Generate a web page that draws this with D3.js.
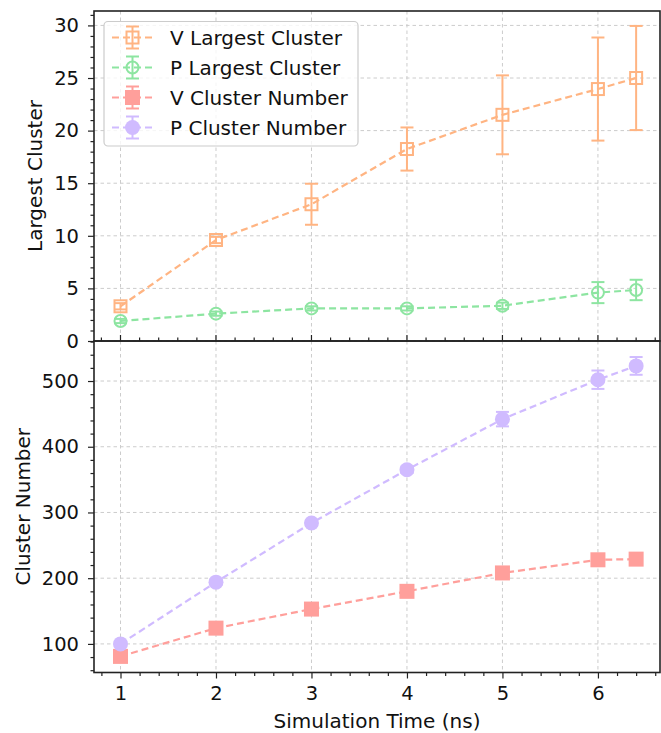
<!DOCTYPE html>
<html>
<head>
<meta charset="utf-8">
<script src="https://cdn.jsdelivr.net/npm/d3@7"></script>
<style>
body { margin:0; background:#fff; }
svg { display:block; font-family:"DejaVu Sans", sans-serif; }
</style>
</head>
<body>
<svg width="661" height="733"></svg>
<script>
// simulation time (ns)
var times = [1, 2, 3, 4, 5, 6, 6.4];

// top panel: largest cluster
var vLargest = [3.3, 9.6, 13.0, 18.25, 21.5, 23.95, 25.0];
var vLargestErr = [0.3, 0.3, 1.95, 2.05, 3.75, 4.9, 4.95];
var pLargest = [1.9, 2.6, 3.1, 3.1, 3.35, 4.6, 4.85];
var pLargestErr = [0.2, 0.2, 0.2, 0.2, 0.3, 1.0, 0.97];

// bottom panel: cluster number
var vNumber = [81, 124, 153, 180, 208, 228, 229];
var vNumberErr = [3, 3, 3, 3, 4, 5, 6];
var pNumber = [100, 194, 284, 365, 442, 502, 523];
var pNumberErr = [3, 4, 4, 5, 11, 14, 13.5];

var xTicks = [1, 2, 3, 4, 5, 6];
var topTicks = [0, 5, 10, 15, 20, 25, 30];
var bottomTicks = [100, 200, 300, 400, 500];
var legendLabels = ["V Largest Cluster", "P Largest Cluster", "V Cluster Number", "P Cluster Number"];

var orange = "#ffb482", green = "#8de5a1", salmon = "#ff9f9b", purple = "#d0bbff";

var svg = d3.select("svg");
var left = 94, right = 660;
var topPanel = {y0:11, y1:341};
var bottomPanel = {y0:341, y1:672.5};

var xScale = d3.scaleLinear().domain([0.7225, 6.65]).range([left, right]);
var yTop = d3.scaleLinear().domain([0, 31.37]).range([topPanel.y1, topPanel.y0]);
var yBottom = d3.scaleLinear().domain([56.5, 560.9]).range([bottomPanel.y1, bottomPanel.y0]);

var drawGrid = function(g, yScale, yTicks, panel)
{
    g.selectAll("line.gx")
        .data(xTicks)
        .enter()
        .append("line")
        .attr("x1", function(d){return xScale(d)})
        .attr("x2", function(d){return xScale(d)})
        .attr("y1", panel.y0)
        .attr("y2", panel.y1)
        .attr("stroke", "#cccccc")
        .attr("stroke-width", 1)
        .attr("stroke-dasharray", "3.5,3")
    g.selectAll("line.gy")
        .data(yTicks)
        .enter()
        .append("line")
        .attr("x1", left)
        .attr("x2", right)
        .attr("y1", function(d){return yScale(d)})
        .attr("y2", function(d){return yScale(d)})
        .attr("stroke", "#cccccc")
        .attr("stroke-width", 1)
        .attr("stroke-dasharray", "3.5,3")
}

var drawYAxis = function(yScale, yTicks, minorStep, panel)
{
    var lo = yScale.domain()[0], hi = yScale.domain()[1];
    var minors = d3.range(Math.ceil(lo / minorStep) * minorStep, hi + 0.001, minorStep)
        .filter(function(v){return yTicks.indexOf(v) < 0});
    var axis = d3.axisLeft(yScale)
        .tickValues(yTicks)
        .tickSize(6)
        .tickPadding(9)
        .tickFormat(d3.format("d"));
    var minorAxis = d3.axisLeft(yScale)
        .tickValues(minors)
        .tickSize(3.5)
        .tickFormat("");
    var ga = svg.append("g").attr("transform", "translate(" + left + ",0)").call(axis);
    var gm = svg.append("g").attr("transform", "translate(" + left + ",0)").call(minorAxis);
    [ga, gm].forEach(function(g)
    {
        g.select(".domain").remove();
        g.selectAll("line").attr("stroke", "#222").attr("stroke-width", 1.2);
    });
    ga.selectAll("text")
        .attr("font-size", 19.5)
        .attr("font-family", "DejaVu Sans")
        .attr("fill", "#111");
}

var drawSeries = function(g, yScale, ys, errs, color, marker, filled)
{
    var pts = times.map(function(t, i){return {x:t, y:ys[i], e:errs[i]}});
    var line = d3.line()
        .x(function(p){return xScale(p.x)})
        .y(function(p){return yScale(p.y)});
    g.append("path")
        .datum(pts)
        .attr("d", line)
        .attr("fill", "none")
        .attr("stroke", color)
        .attr("stroke-width", 2.2)
        .attr("stroke-dasharray", "7,4");
    var bars = g.selectAll(null).data(pts).enter().append("g");
    bars.append("line")
        .attr("x1", function(p){return xScale(p.x)})
        .attr("x2", function(p){return xScale(p.x)})
        .attr("y1", function(p){return yScale(p.y - p.e)})
        .attr("y2", function(p){return yScale(p.y + p.e)})
        .attr("stroke", color).attr("stroke-width", 2);
    [-1, 1].forEach(function(s)
    {
        bars.append("line")
            .attr("x1", function(p){return xScale(p.x) - 6.5})
            .attr("x2", function(p){return xScale(p.x) + 6.5})
            .attr("y1", function(p){return yScale(p.y + s * p.e)})
            .attr("y2", function(p){return yScale(p.y + s * p.e)})
            .attr("stroke", color).attr("stroke-width", 2);
    });
    pts.forEach(function(p)
    {
        drawMarker(g, xScale(p.x), yScale(p.y), color, marker, filled);
    });
}

var drawMarker = function(g, cx, cy, color, marker, filled)
{
    if (marker == "square")
    {
        var s = filled ? 15 : 12;
        g.append("rect")
            .attr("x", cx - s / 2).attr("y", cy - s / 2)
            .attr("width", s).attr("height", s)
            .attr("fill", filled ? color : "none")
            .attr("stroke", filled ? "none" : color)
            .attr("stroke-width", 2);
    }
    else
    {
        g.append("circle")
            .attr("cx", cx).attr("cy", cy)
            .attr("r", filled ? 7.5 : 6)
            .attr("fill", filled ? color : "none")
            .attr("stroke", filled ? "none" : color)
            .attr("stroke-width", 2);
    }
}

// grids
drawGrid(svg.append("g"), yTop, topTicks, topPanel);
drawGrid(svg.append("g"), yBottom, bottomTicks, bottomPanel);

// data
var topG = svg.append("g");
drawSeries(topG, yTop, vLargest, vLargestErr, orange, "square", false);
drawSeries(topG, yTop, pLargest, pLargestErr, green, "circle", false);
var botG = svg.append("g");
drawSeries(botG, yBottom, vNumber, vNumberErr, salmon, "square", true);
drawSeries(botG, yBottom, pNumber, pNumberErr, purple, "circle", true);

// y axes
drawYAxis(yTop, topTicks, 1, topPanel);
drawYAxis(yBottom, bottomTicks, 20, bottomPanel);

// x ticks: up into the top panel, down below the bottom panel
var xMinors = d3.range(0.8, 6.65, 0.2).map(function(v){return +v.toFixed(1)})
    .filter(function(v){return xTicks.indexOf(v) < 0});
var xTop = svg.append("g").attr("transform", "translate(0," + topPanel.y1 + ")");
xTop.selectAll("line.maj").data(xTicks).enter().append("line")
    .attr("x1", function(d){return xScale(d)}).attr("x2", function(d){return xScale(d)})
    .attr("y1", 0).attr("y2", -6).attr("stroke", "#222").attr("stroke-width", 1.2);
xTop.selectAll("line.min").data(xMinors).enter().append("line")
    .attr("x1", function(d){return xScale(d)}).attr("x2", function(d){return xScale(d)})
    .attr("y1", 0).attr("y2", -3.5).attr("stroke", "#222").attr("stroke-width", 1.2);

var xAxis = d3.axisBottom(xScale).tickValues(xTicks).tickSize(6).tickPadding(8).tickFormat(d3.format("d"));
var xMinor = d3.axisBottom(xScale).tickValues(xMinors).tickSize(3.5).tickFormat("");
var gx = svg.append("g").attr("transform", "translate(0," + bottomPanel.y1 + ")").call(xAxis);
var gxm = svg.append("g").attr("transform", "translate(0," + bottomPanel.y1 + ")").call(xMinor);
[gx, gxm].forEach(function(g)
{
    g.select(".domain").remove();
    g.selectAll("line").attr("stroke", "#222").attr("stroke-width", 1.2);
});
gx.selectAll("text").attr("font-size", 19.5).attr("font-family", "DejaVu Sans").attr("fill", "#111");

// frames
[topPanel, bottomPanel].forEach(function(p)
{
    svg.append("rect")
        .attr("x", left).attr("y", p.y0)
        .attr("width", right - left).attr("height", p.y1 - p.y0)
        .attr("fill", "none")
        .attr("stroke", "#222")
        .attr("stroke-width", 1.6);
});

// axis labels
svg.append("text")
    .attr("transform", "translate(41.5," + (topPanel.y0 + topPanel.y1) / 2 + ") rotate(-90)")
    .attr("text-anchor", "middle")
    .attr("font-size", 20)
    .attr("fill", "#111")
    .text("Largest Cluster");
svg.append("text")
    .attr("transform", "translate(29.5," + (bottomPanel.y0 + bottomPanel.y1) / 2 + ") rotate(-90)")
    .attr("text-anchor", "middle")
    .attr("font-size", 20)
    .attr("fill", "#111")
    .text("Cluster Number");
svg.append("text")
    .attr("x", (left + right) / 2)
    .attr("y", 728)
    .attr("text-anchor", "middle")
    .attr("font-size", 20)
    .attr("fill", "#111")
    .text("Simulation Time (ns)");

// legend
var legendColors = [orange, green, salmon, purple];
var legendMarkers = [["square", false], ["circle", false], ["square", true], ["circle", true]];
var legend = svg.append("g");
legend.append("rect")
    .attr("x", 104).attr("y", 21.5)
    .attr("width", 254).attr("height", 124.5)
    .attr("rx", 4)
    .attr("fill", "white").attr("fill-opacity", 0.8)
    .attr("stroke", "#cccccc").attr("stroke-width", 1.2);
legendLabels.forEach(function(lab, i)
{
    var cy = 37.5 + i * 30;
    var c = legendColors[i];
    legend.append("line")
        .attr("x1", 112).attr("x2", 153).attr("y1", cy).attr("y2", cy)
        .attr("stroke", c).attr("stroke-width", 2.2).attr("stroke-dasharray", "7,4");
    legend.append("line")
        .attr("x1", 132.5).attr("x2", 132.5).attr("y1", cy - 11).attr("y2", cy + 11)
        .attr("stroke", c).attr("stroke-width", 2);
    [-11, 11].forEach(function(o)
    {
        legend.append("line")
            .attr("x1", 126).attr("x2", 139).attr("y1", cy + o).attr("y2", cy + o)
            .attr("stroke", c).attr("stroke-width", 2);
    });
    drawMarker(legend, 132.5, cy, c, legendMarkers[i][0], legendMarkers[i][1]);
    legend.append("text")
        .attr("x", 170).attr("y", cy + 7.3)
        .attr("font-size", 20)
        .attr("fill", "#111")
        .text(lab);
});
</script>
</body>
</html>
